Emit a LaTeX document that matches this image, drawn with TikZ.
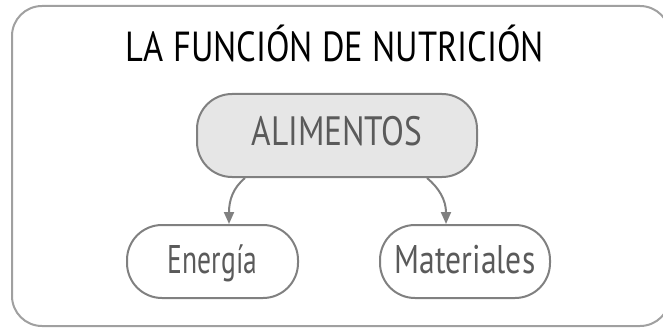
\documentclass[tikz,border=0pt]{standalone}
\usepackage{fontspec}
\setmainfont{PT Sans}
\usetikzlibrary{arrows.meta,calc}
\definecolor{frameC}{HTML}{A0A0A0}
\definecolor{boxC}{HTML}{808080}
\definecolor{fillC}{HTML}{E6E6E6}
\definecolor{txtC}{HTML}{5A5A5A}
\tikzset{
  pill/.style={draw=boxC, line width=2pt, rounded corners=35pt, inner sep=0pt, text=txtC},
  conn/.style={draw=boxC, line width=2pt, -{Triangle[length=12pt,width=10pt]}},
}
\begin{document}
\begin{tikzpicture}[x=1pt,y=1pt]
\useasboundingbox (0,0) rectangle (663,327);
\begin{scope}
\clip (0,0) rectangle (663,327);
\draw[frameC, line width=2pt, rounded corners=30pt] (12,1) rectangle (670,321);
\end{scope}
\node[font=\fontsize{42}{42}\selectfont, text=black, anchor=base, inner sep=0pt] (title) at (335,265) {\scalebox{0.82}[1]{LA FUNCIÓN DE NUTRICIÓN}};
\node[pill, fill=fillC, minimum width=280pt, minimum height=83pt, text height=19pt, text depth=0pt, font=\fontsize{41}{41}\selectfont] (alim) at (337,191.5) {\scalebox{0.815}[1]{ALIMENTOS}};
\node[pill, minimum width=171pt, minimum height=73pt, text height=23pt, text depth=0pt, font=\fontsize{40}{40}\selectfont] (ener) at (212.5,65.5) {\scalebox{0.69}[1]{Energía}};
\node[pill, minimum width=170pt, minimum height=73pt, text height=23pt, text depth=0pt, font=\fontsize{40}{40}\selectfont] (mat) at (465,65.5) {\scalebox{0.79}[1]{Materiales}};
\draw[conn] ([xshift=-92pt]alim.south) .. controls +(-12,-10) and +(0,24) .. ([xshift=16.5pt]ener.north);
\draw[conn] ([xshift=90pt]alim.south) .. controls +(12,-10) and +(0,24) .. ([xshift=-19pt]mat.north);
\end{tikzpicture}
\end{document}
